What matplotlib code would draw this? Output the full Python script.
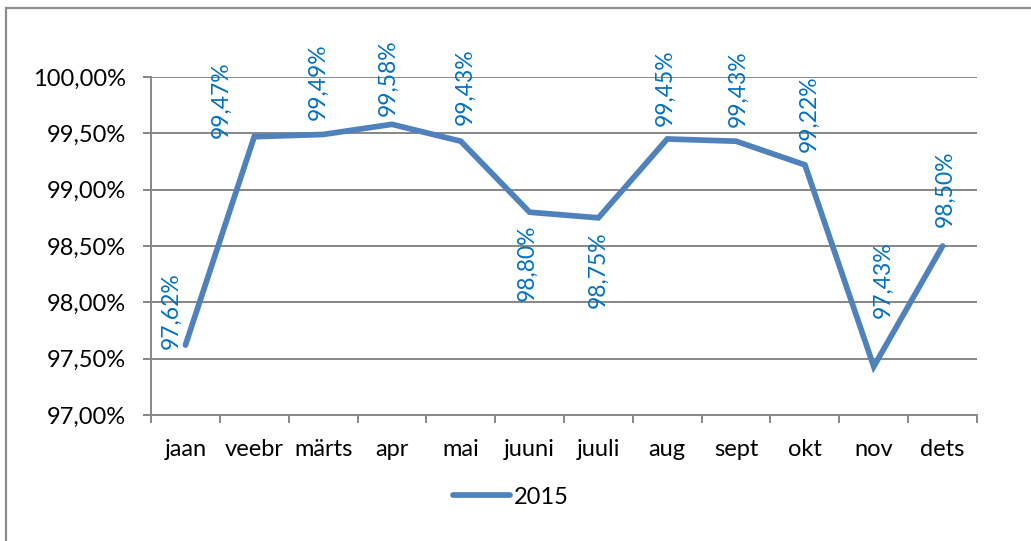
import matplotlib.pyplot as plt
from matplotlib.patches import Rectangle

months = ['jaan', 'veebr', 'märts', 'apr', 'mai', 'juuni', 'juuli',
          'aug', 'sept', 'okt', 'nov', 'dets']
values_2015 = [97.62, 99.47, 99.49, 99.58, 99.43, 98.80, 98.75,
               99.45, 99.43, 99.22, 97.43, 98.50]
y_ticks = [97.0, 97.5, 98.0, 98.5, 99.0, 99.5, 100.0]

# label placement (pixel offsets from the point), like the excel original
label_dx = [-14, -33, -5, -4, 4, -2, 0, -2, 2, 4, 9, 3]
label_dy = [35, 37, 53, 47, 55, -51, -52, 51, 53, 51, 87, 57]

plt.rcParams['font.family'] = ['Lato', 'DejaVu Sans']

fig = plt.figure(figsize=(10.31, 5.41), dpi=100)
ax = fig.add_axes([151 / 1031, 1 - 415 / 541, 826 / 1031, 338 / 541])

grey = '#878787'
x = list(range(len(months)))
ax.plot(x, values_2015, color='#4F81BD', lw=4.1, solid_joinstyle='miter',
        solid_capstyle='round', label='2015', zorder=3)

for i, v in enumerate(values_2015):
    txt = f'{v:.2f}'.replace('.', ',') + '%'
    ax.annotate(txt, (i, v), xytext=(label_dx[i], label_dy[i]),
                textcoords='offset pixels', rotation=90, ha='center',
                va='center', color='#0070C0', fontsize=16.5, zorder=4)

ax.set_xlim(-0.5, len(months) - 0.5)
ax.set_ylim(97, 100)
ax.set_yticks(y_ticks)
ax.set_yticklabels([f'{t:.2f}'.replace('.', ',') + '%' for t in y_ticks])
ax.set_xticks(x)
ax.set_xticklabels(months)
ax.set_xticks([i - 0.5 for i in range(len(months) + 1)], minor=True)

ax.grid(axis='y', color=grey, lw=1.4)
ax.set_axisbelow(True)
for s in ['top', 'right']:
    ax.spines[s].set_visible(False)
for s in ['left', 'bottom']:
    ax.spines[s].set_color(grey)
    ax.spines[s].set_linewidth(1.4)

ax.tick_params(axis='y', length=5.8, width=1.4, color=grey, pad=12,
               labelsize=17, labelcolor='black')
ax.tick_params(axis='x', which='major', length=0, pad=17, labelsize=17)
ax.tick_params(axis='x', which='minor', length=5.8, width=1.4, color=grey)

fig.legend(loc='center', bbox_to_anchor=(511 / 1031, 1 - 497 / 541),
           frameon=False, fontsize=17, handlelength=2.4, handletextpad=0.15)

fig.patches.append(Rectangle((6 / 1031, -0.1), 1.2, (541 - 8) / 541 + 0.1,
                             transform=fig.transFigure, fill=False,
                             edgecolor='#8c8c8c', lw=1.6, clip_on=False))

fig.savefig('out.png', dpi=100)
